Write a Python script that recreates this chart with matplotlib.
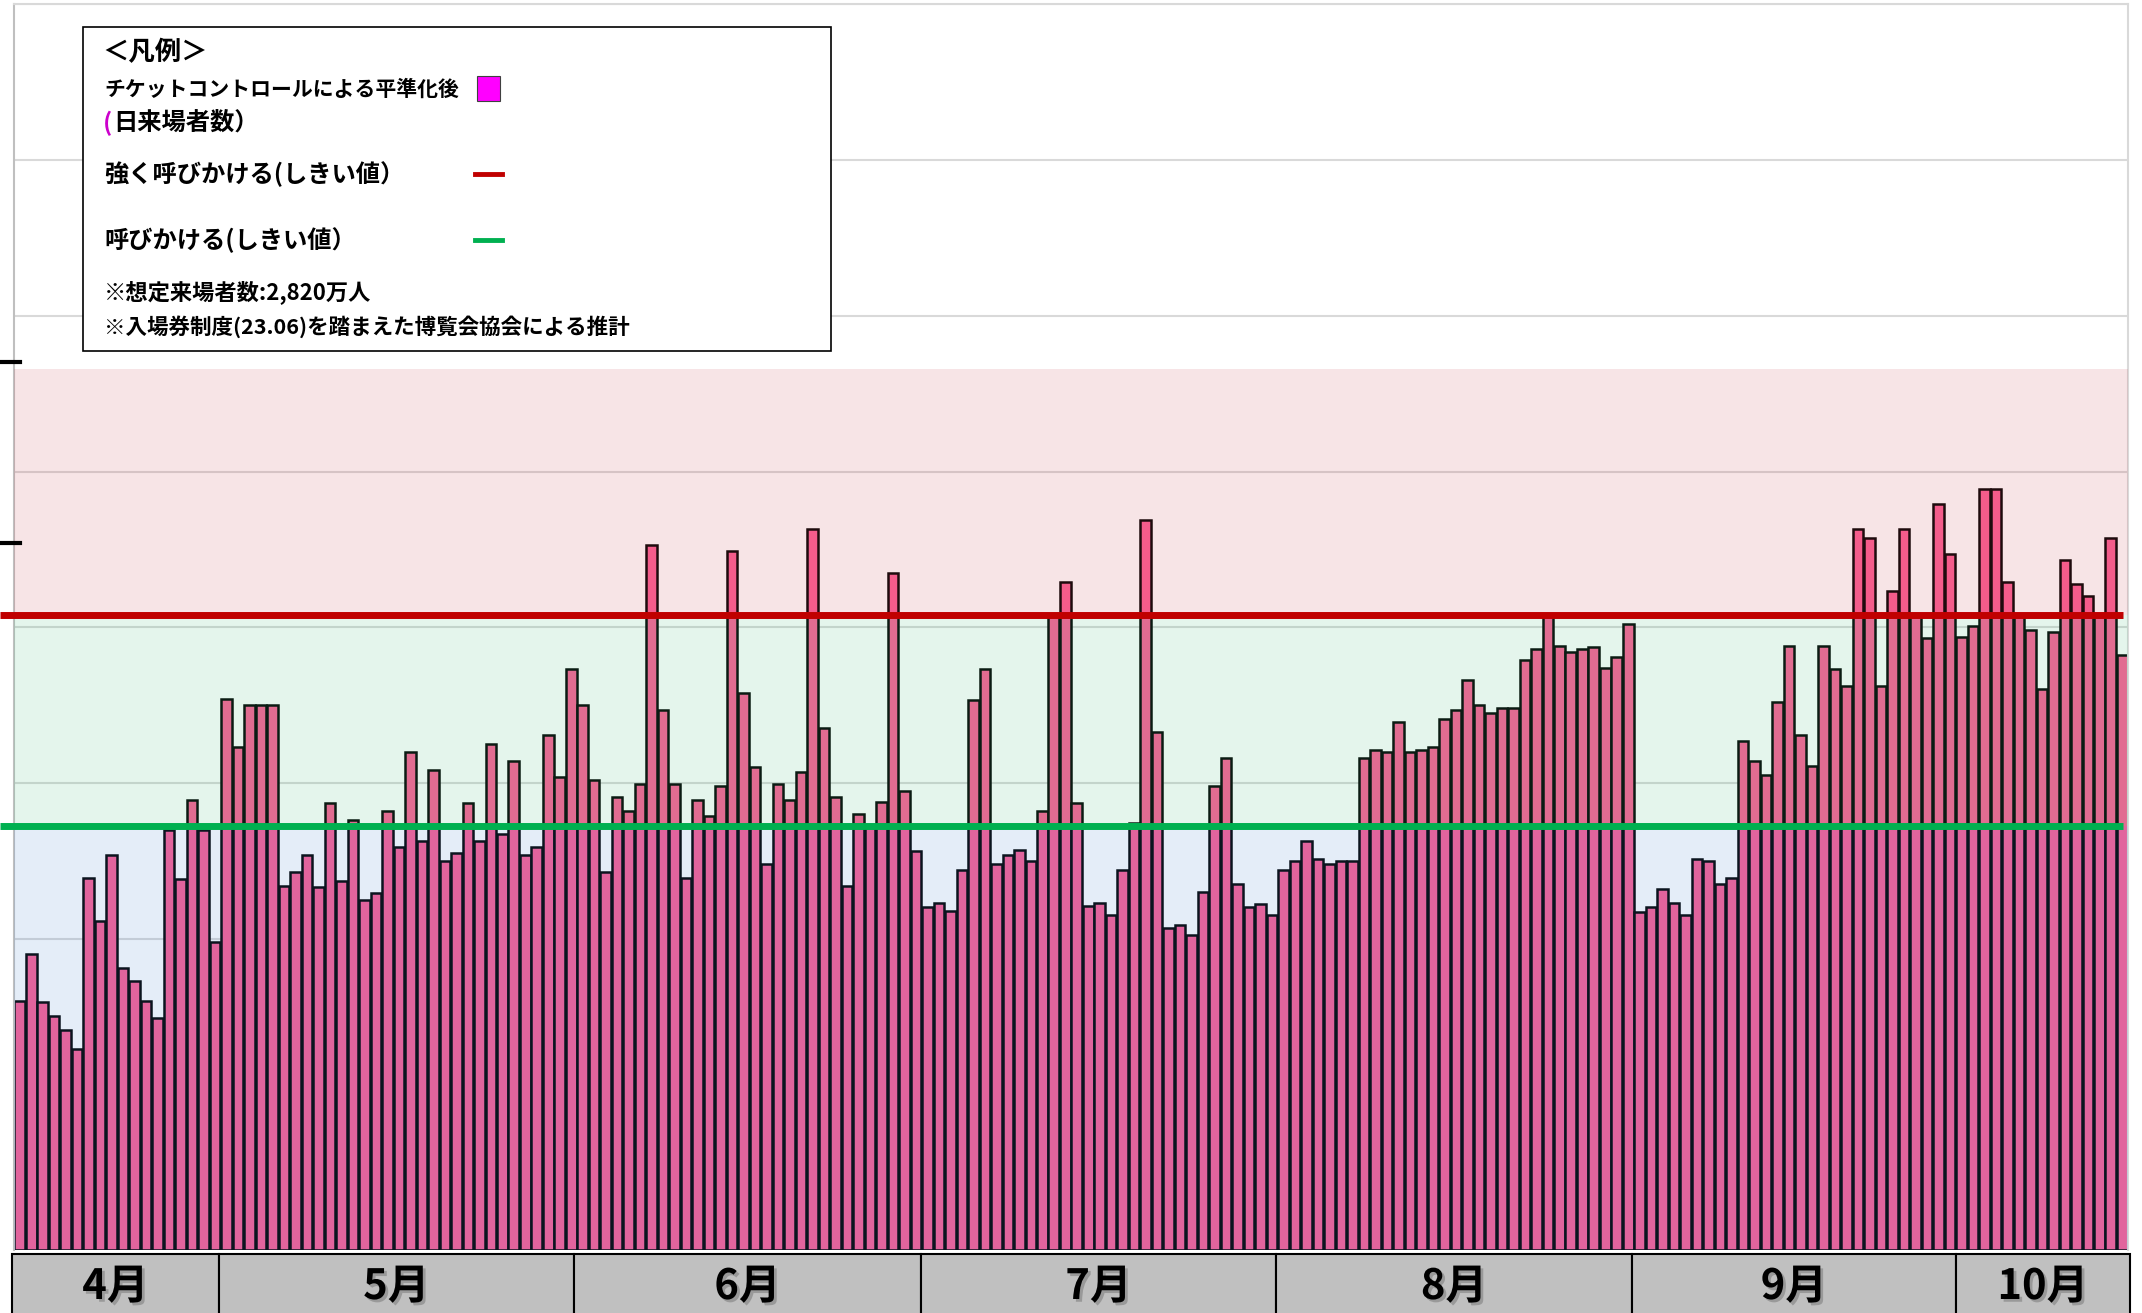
import numpy as np
import pandas as pd
import matplotlib
matplotlib.use("Agg")
import matplotlib.pyplot as plt
import matplotlib.patheffects as pe
from matplotlib.patches import Rectangle
from matplotlib.lines import Line2D
from matplotlib.transforms import blended_transform_factory

plt.rcParams['font.family'] = ['Noto Sans CJK JP', 'DejaVu Sans']

# daily visitors after ticket control smoothing (10k people), 2025-04-13 .. 2025-10-13
dates = pd.date_range('2025-04-13', '2025-10-13', freq='D')
visitors = [
    8.0, 9.5, 7.95, 7.5, 7.05, 6.45, 11.95, 10.55, 12.7, 9.05,
    8.65, 8.0, 7.45, 13.5, 11.9, 14.45, 13.5, 9.9, 17.7, 16.15,
    17.5, 17.5, 17.5, 11.7, 12.15, 12.7, 11.65, 14.35, 11.85, 13.8,
    11.25, 11.45, 14.1, 12.95, 16.0, 13.15, 15.4, 12.5, 12.75, 14.35,
    13.15, 16.25, 13.35, 15.7, 12.7, 12.95, 16.55, 15.2, 18.65, 17.5,
    15.1, 12.15, 14.55, 14.1, 14.95, 22.65, 17.35, 14.95, 11.95, 14.45,
    13.95, 14.9, 22.45, 17.9, 15.5, 12.4, 14.95, 14.45, 15.35, 23.15,
    16.75, 14.55, 11.7, 14.0, 13.6, 14.4, 21.75, 14.75, 12.8, 11.0,
    11.15, 10.9, 12.2, 17.65, 18.65, 12.4, 12.7, 12.85, 12.5, 14.1,
    20.35, 21.45, 14.35, 11.05, 11.15, 10.75, 12.2, 13.7, 23.45, 16.65,
    10.35, 10.45, 10.1, 11.5, 14.9, 15.8, 11.75, 11.0, 11.1, 10.75,
    12.2, 12.5, 13.15, 12.55, 12.4, 12.5, 12.5, 15.8, 16.05, 16.0,
    16.95, 16.0, 16.05, 16.15, 17.05, 17.35, 18.3, 17.5, 17.25, 17.4,
    17.4, 18.95, 19.3, 20.4, 19.4, 19.2, 19.3, 19.35, 18.7, 19.05,
    20.1, 10.85, 11.0, 11.6, 11.15, 10.75, 12.55, 12.5, 11.75, 11.95,
    16.35, 15.7, 15.25, 17.6, 19.4, 16.55, 15.55, 19.4, 18.65, 18.1,
    23.15, 22.85, 18.1, 21.15, 23.15, 20.35, 19.65, 23.95, 22.35, 19.7,
    20.05, 24.45, 24.45, 21.45, 20.35, 19.9, 18.0, 19.85, 22.15, 21.4,
    21.0, 20.35, 22.85, 19.1,
]

call_threshold = 13.6      # 呼びかける
strong_threshold = 20.4    # 強く呼びかける
band_top = 28.3

months = ['4月', '5月', '6月', '7月', '8月', '9月', '10月']
month_edges = [-0.67, 17.31, 48.24, 78.44, 109.34, 140.33, 168.49, 183.68]

W, H = 2142, 1313
def fx(px):
    return px / W
def fy(py):
    return 1 - py / H

fig = plt.figure(figsize=(W / 100, H / 100), dpi=100)
fig.patch.set_facecolor('white')
ax = fig.add_axes([fx(14), fy(1250), (2128 - 14) / W, (1250 - 4.4) / H])

x = np.arange(len(dates))
ax.set_xlim(-0.5, len(dates) - 0.5)
ax.set_ylim(0, 40)
ax.set_yticks(np.arange(0, 41, 5))
ax.tick_params(left=False, bottom=False, labelleft=False, labelbottom=False)
ax.yaxis.grid(True, color='#D9D9D9', lw=1.5)
ax.set_axisbelow(True)

ax.bar(x, visitors, width=0.92, color='#FC5F95', edgecolor='black',
       linewidth=1.8, zorder=2)

# tinted zones laid over the bars
ax.axhspan(0, call_threshold, color=(75/255, 135/255, 208/255), alpha=0.15, lw=0, zorder=3)
ax.axhspan(call_threshold, strong_threshold, color=(75/255, 188/255, 128/255), alpha=0.15, lw=0, zorder=3)
ax.axhspan(strong_threshold, band_top, color=(202/255, 75/255, 88/255), alpha=0.15, lw=0, zorder=3)

ax.plot([-1.72, 183.05], [strong_threshold] * 2, color='#C00000', lw=5,
        solid_capstyle='butt', clip_on=False, zorder=4)
ax.plot([-1.72, 183.05], [call_threshold] * 2, color='#00B050', lw=5,
        solid_capstyle='butt', clip_on=False, zorder=4)

for side in ['top', 'right']:
    ax.spines[side].set_color('#D9D9D9')
    ax.spines[side].set_linewidth(1.5)
ax.spines['left'].set_color('#BFBFBF')
ax.spines['left'].set_linewidth(1.5)
ax.spines['bottom'].set_visible(False)

# month strip under the bars
trans = blended_transform_factory(ax.transData, ax.transAxes)
for name, x0, x1 in zip(months, month_edges[:-1], month_edges[1:]):
    ax.add_patch(Rectangle((x0, -0.0032), x1 - x0, -0.07, transform=trans,
                           facecolor='#C0C0C0', edgecolor='black', lw=1.5,
                           clip_on=False, zorder=5))
    ax.text((x0 + x1) / 2, -0.0297, name, transform=trans, ha='center', va='center',
            fontsize=30, fontweight='bold', color='black', zorder=6,
            path_effects=[pe.withSimplePatchShadow(offset=(2, -2), shadow_rgbFace='#808080', alpha=0.6)])

# stray tick marks at the left edge
for py in [362, 543]:
    fig.add_artist(Line2D([0, fx(20)], [fy(py)] * 2, transform=fig.transFigure,
                          color='black', lw=3, zorder=4))

# legend box
fig.add_artist(Rectangle((fx(83), fy(351)), (831 - 83) / W, (351 - 27) / H,
                         transform=fig.transFigure, facecolor='white',
                         edgecolor='black', lw=1.2, zorder=4))
tk = dict(ha='left', va='center', fontweight='bold', color='black', zorder=5)
fig.text(fx(102), fy(53), '＜凡例＞', fontsize=19, **tk)
fig.text(fx(104), fy(89), 'チケットコントロールによる平準化後', fontsize=15, **tk)
fig.text(fx(103), fy(123), '(', fontsize=17.5, ha='left', va='center',
         fontweight='bold', color='#CC00CC', zorder=5)
fig.text(fx(113), fy(123), '日来場者数）', fontsize=17.5, **tk)
fig.text(fx(104), fy(174), '強く呼びかける(しきい値）', fontsize=17.5, **tk)
fig.text(fx(104), fy(240), '呼びかける(しきい値）', fontsize=17.5, **tk)
fig.text(fx(104), fy(292), '※想定来場者数:2,820万人', fontsize=16, **tk)
fig.text(fx(104), fy(327), '※入場券制度(23.06)を踏まえた博覧会協会による推計', fontsize=15.5, **tk)

fig.add_artist(Rectangle((fx(477), fy(101)), 23 / W, 25 / H, transform=fig.transFigure,
                         facecolor='#FF00FF', edgecolor='#404040', lw=0.8, zorder=5))
fig.add_artist(Line2D([fx(475), fx(502)], [fy(174)] * 2, transform=fig.transFigure,
                      color='#C00000', lw=3.5, zorder=5))
fig.add_artist(Line2D([fx(475), fx(502)], [fy(240)] * 2, transform=fig.transFigure,
                      color='#00B050', lw=3.5, zorder=5))

fig.savefig('out.png', dpi=100, facecolor='white')
